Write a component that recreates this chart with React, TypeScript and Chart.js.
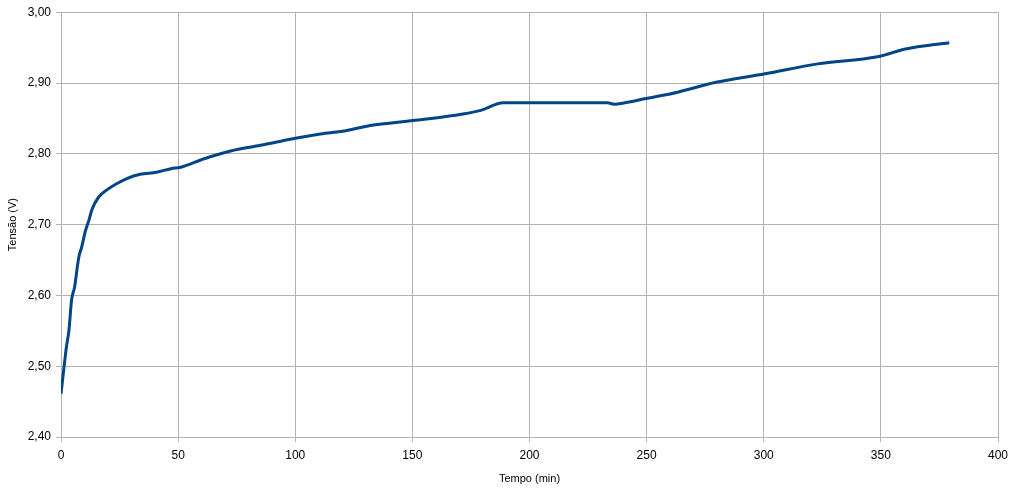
import React, { useEffect, useRef } from "react";
import Chart from "chart.js/auto";

// tempo em minutos, tensão em volts
const tempo = [
  0, 1.3, 2.3, 3.4, 4.5, 5.8, 7.6, 8.8, 10.5, 11.9, 13.3, 16.1, 19.6, 23.9, 28.1,
  33.8, 40.8, 46.9, 51.1, 61.1, 72.4, 85.2, 100.1, 110.7, 122.1, 132, 150.4,
  167.4, 178.8, 188.9, 200, 215, 233.2, 236.2, 240.7, 249.7, 263.2, 279.6,
  300.6, 323, 348.5, 360.5, 379.2,
];
const tensao = [
  2.461, 2.499, 2.527, 2.551, 2.593, 2.612, 2.654, 2.668, 2.692, 2.706, 2.722,
  2.739, 2.749, 2.758, 2.765, 2.771, 2.774, 2.779, 2.781, 2.793, 2.804, 2.812,
  2.822, 2.828, 2.833, 2.84, 2.847, 2.854, 2.861, 2.872, 2.872, 2.872, 2.872,
  2.87, 2.872, 2.878, 2.887, 2.901, 2.913, 2.927, 2.937, 2.948, 2.957,
];

const GRID = "#b3b3b3";
const FONT = "'Liberation Sans', Arial, sans-serif";

function App() {
  const chartRef = useRef<HTMLCanvasElement>(null);
  const chartInstance = useRef<Chart | null>(null);

  useEffect(() => {
    document.body.style.margin = "0";
    const ctx = chartRef.current!.getContext("2d")!;

    chartInstance.current = new Chart(ctx, {
      type: "line",
      data: {
        datasets: [
          {
            label: "Tensão",
            data: tempo.map((t, i) => ({ x: t, y: tensao[i] })),
            borderColor: "#004586",
            borderWidth: 3,
            pointRadius: 0,
            fill: false,
            cubicInterpolationMode: "monotone",
          },
        ],
      },
      options: {
        animation: false,
        responsive: false,
        layout: { padding: { top: 12, right: 19, left: 0, bottom: 0 } },
        plugins: { legend: { display: false }, tooltip: { enabled: false } },
        scales: {
          x: {
            type: "linear",
            min: 0,
            max: 400,
            ticks: {
              stepSize: 50,
              color: "#000",
              font: { family: FONT, size: 12 },
              padding: 6,
            },
            grid: { color: GRID, tickLength: 5 },
            border: { color: GRID },
            title: {
              display: true,
              text: "Tempo (min)",
              color: "#000",
              font: { family: FONT, size: 11 },
              padding: { top: 0, bottom: 6 },
            },
            afterFit: (axis: any) => {
              axis.height = 55;
            },
          },
          y: {
            min: 2.4,
            max: 3.0,
            ticks: {
              stepSize: 0.1,
              color: "#000",
              font: { family: FONT, size: 12 },
              padding: 5,
              callback: (v: any) => Number(v).toFixed(2).replace(".", ","),
            },
            grid: { color: GRID, tickLength: 5 },
            border: { color: GRID },
            title: {
              display: true,
              text: "Tensão (V)",
              color: "#000",
              font: { family: FONT, size: 11 },
              padding: { top: 6, bottom: 0 },
            },
            afterFit: (axis: any) => {
              axis.width = 61;
            },
          },
        },
      },
    });

    return () => {
      chartInstance.current?.destroy();
    };
  }, []);

  return (
    <div style={{ width: "1017px", height: "492px", background: "#fff" }}>
      <canvas ref={chartRef} width="1017" height="492"></canvas>
    </div>
  );
}

export default App;
